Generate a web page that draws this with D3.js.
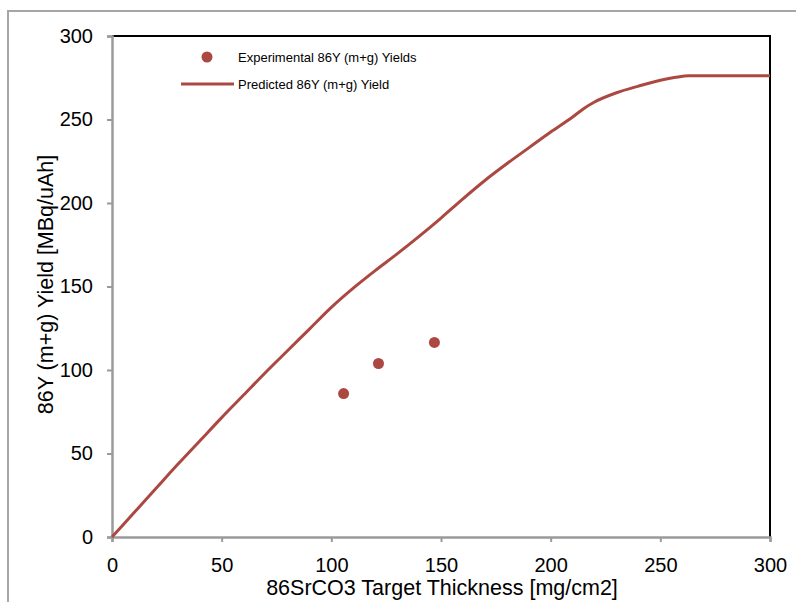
<!DOCTYPE html>
<html>
<head>
<meta charset="utf-8">
<script src="https://cdn.jsdelivr.net/npm/d3@7"></script>
<style>
  html, body { margin: 0; padding: 0; background: #fff; }
  svg { display: block; font-family: "Liberation Sans", Arial, sans-serif; }
</style>
</head>
<body>
<svg id="chart" width="796" height="602"></svg>
<script>
// Predicted 86Y (m+g) yield vs. 86SrCO3 target thickness
const thickness = [0, 10, 20, 30, 40, 50, 60, 70, 80, 90, 100, 110, 120, 130, 140, 150, 160, 170, 180, 190, 200, 210, 215, 220, 230, 240, 250, 257, 263, 300];
const predicted = [0, 14.5, 29, 43.5, 57.5, 71.5, 85, 98.5, 111.5, 124.5, 137.5, 149, 159.5, 169.5, 180, 191, 202.5, 213.5, 223.5, 233, 242.5, 251.5, 256.5, 260.5, 266, 270, 273.5, 275.3, 276.2, 276.2];

// Measured yields
const expThickness = [105.6, 121.5, 147];
const expYield = [85.9, 103.9, 116.5];

const xTicks = [0, 50, 100, 150, 200, 250, 300];
const yTicks = [0, 50, 100, 150, 200, 250, 300];

const seriesColor = "#AB4842";
const axisGray = "#9a9a9a";

const svg = d3.select("#chart");
const margin = { left: 112, top: 36, right: 26, bottom: 65 };
const W = 796, H = 602;

const x = d3.scaleLinear().domain([0, 300]).range([margin.left, W - margin.right]);
const y = d3.scaleLinear().domain([0, 300]).range([H - margin.bottom, margin.top]);

// outer frame
svg.append("rect")
  .attr("x", 8).attr("y", 11)
  .attr("width", 820).attr("height", 620)
  .attr("fill", "none").attr("stroke", "#a6a6a6").attr("stroke-width", 2);

// top and right plot border
svg.append("path")
  .attr("d", `M${x(0)},${y(300)}H${x(300)}V${y(0)}`)
  .attr("fill", "none").attr("stroke", "#000").attr("stroke-width", 2);

// axes
const xAxis = svg.append("g")
  .attr("transform", `translate(0,${y(0)})`)
  .call(d3.axisBottom(x).tickValues(xTicks).tickSize(5).tickPadding(16).tickFormat(d3.format("d")));
const yAxis = svg.append("g")
  .attr("transform", `translate(${x(0)},0)`)
  .call(d3.axisLeft(y).tickValues(yTicks).tickSize(5).tickPadding(14).tickFormat(d3.format("d")));

[xAxis, yAxis].forEach(g => {
  g.select(".domain").attr("stroke", axisGray).attr("stroke-width", 2.5);
  g.selectAll(".tick line").attr("stroke", axisGray).attr("stroke-width", 2);
  g.selectAll(".tick text")
    .attr("fill", "#000")
    .style("font-size", "20px")
    .style("font-family", "'Liberation Sans', Arial, sans-serif");
});

// axis titles
svg.append("text")
  .attr("x", 442).attr("y", 595)
  .attr("text-anchor", "middle")
  .style("font-size", "21.5px")
  .text("86SrCO3 Target Thickness [mg/cm2]");

svg.append("text")
  .attr("transform", `translate(53,${y(150) - 2}) rotate(-90)`)
  .attr("text-anchor", "middle")
  .style("font-size", "21.5px")
  .text("86Y (m+g) Yield [MBq/uAh]");

// predicted curve
const lineData = thickness.map((t, i) => [t, predicted[i]]);
svg.append("path")
  .datum(lineData)
  .attr("fill", "none")
  .attr("stroke", seriesColor)
  .attr("stroke-width", 3)
  .attr("d", d3.line().curve(d3.curveMonotoneX).x(d => x(d[0])).y(d => y(d[1])));

// experimental points
svg.append("g").selectAll("circle")
  .data(expThickness.map((t, i) => [t, expYield[i]]))
  .join("circle")
  .attr("cx", d => x(d[0]))
  .attr("cy", d => y(d[1]))
  .attr("r", 5.5)
  .attr("fill", seriesColor);

// legend
const legend = svg.append("g").style("font-size", "13px");
legend.append("circle").attr("cx", 207).attr("cy", 57).attr("r", 5.5).attr("fill", seriesColor);
legend.append("text").attr("x", 238).attr("y", 62).text("Experimental 86Y (m+g) Yields");
legend.append("line").attr("x1", 181).attr("x2", 234).attr("y1", 84).attr("y2", 84)
  .attr("stroke", seriesColor).attr("stroke-width", 3);
legend.append("text").attr("x", 238).attr("y", 89).text("Predicted 86Y (m+g) Yield");
</script>
</body>
</html>
